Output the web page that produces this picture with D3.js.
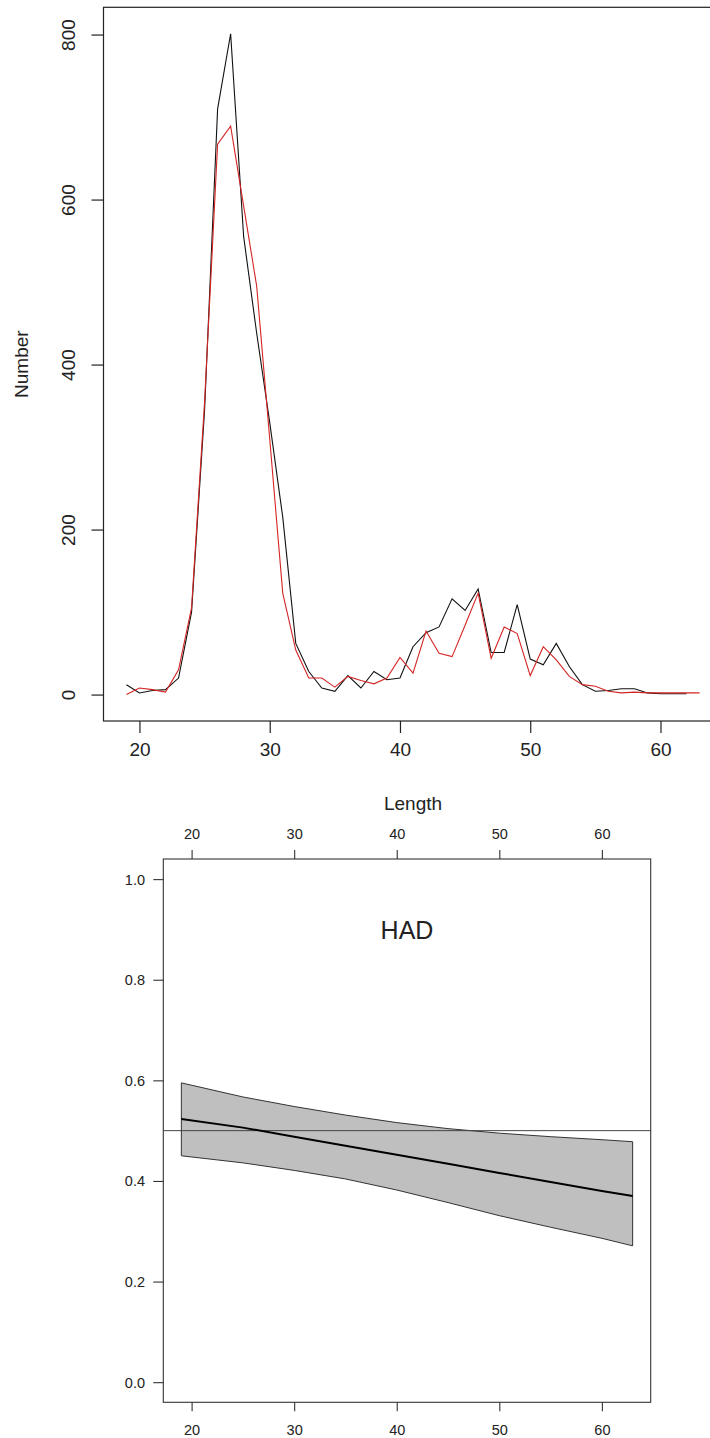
<!DOCTYPE html>
<html>
<head>
<meta charset="utf-8">
<script src="https://cdn.jsdelivr.net/npm/d3@7"></script>
<style>
  html, body { margin: 0; padding: 0; background: #fff; }
  svg { display: block; }
  text { font-family: "Liberation Sans", Arial, sans-serif; fill: #222; }
</style>
</head>
<body>
<svg id="chart" width="710" height="1438"></svg>
<script>
// ---- Top panel data: length-frequency ----
const lengths = d3.range(19, 64); // 19..63
const blackCounts = [12, 2, 5, 6, 20, 100, 345, 710, 801, 555, 438, 330, 215, 62, 28, 8, 4, 23, 8, 28,
  18, 20, 58, 75, 82, 116, 102, 128, 51, 51, 109, 43, 36, 62, 34, 12, 4, 5, 7, 7, 2, 1, 1, 1];
const redCounts = [0, 8, 6, 3, 30, 105, 355, 667, 689, 592, 495, 310, 123, 54, 20, 20, 9, 22, 17, 13,
  20, 45, 26, 77, 50, 46, 84, 123, 44, 82, 74, 23, 58, 42, 22, 12, 10, 4, 2, 3, 2, 2, 2, 2, 2];
const topXTicks = [20, 30, 40, 50, 60];
const topYTicks = [0, 200, 400, 600, 800];

// ---- Bottom panel data: fitted proportion (HAD) ----
const fitLengths = [19, 25, 30, 35, 40, 45, 50, 55, 60, 63];
const fitMean  = [0.523, 0.506, 0.488, 0.470, 0.452, 0.434, 0.416, 0.398, 0.380, 0.370];
const fitUpper = [0.595, 0.567, 0.548, 0.531, 0.516, 0.504, 0.495, 0.488, 0.482, 0.478];
const fitLower = [0.450, 0.436, 0.421, 0.404, 0.382, 0.357, 0.331, 0.308, 0.286, 0.271];
const botXTicks = [20, 30, 40, 50, 60];
const botYTicks = [0.0, 0.2, 0.4, 0.6, 0.8, 1.0];
const refLevel = 0.5;
const panelTitle = "HAD";

const svg = d3.select("#chart");

// ================= TOP PANEL =================
const tL = 103.5, tR = 722.5, tT = 7.3, tB = 721;
const xmin = d3.min(lengths), xmax = d3.max(lengths);
const xpad = (xmax - xmin) * 0.04;
const ymaxTop = d3.max([...blackCounts, ...redCounts]);
const ypad = ymaxTop * 0.04;
const xTop = d3.scaleLinear().domain([xmin - xpad, xmax + xpad]).range([tL, tR]);
const yTop = d3.scaleLinear().domain([-ypad, ymaxTop + ypad]).range([tB, tT]);

const gTop = svg.append("g");
const lineTop = d3.line().x(d => xTop(d[0])).y(d => yTop(d[1]));

gTop.append("path")
  .datum(blackCounts.map((v, i) => [lengths[i], v]))
  .attr("d", lineTop).attr("fill", "none").attr("stroke", "#111").attr("stroke-width", 1.1);
gTop.append("path")
  .datum(redCounts.map((v, i) => [lengths[i], v]))
  .attr("d", lineTop).attr("fill", "none").attr("stroke", "#d42525").attr("stroke-width", 1.1);

// box
gTop.append("rect").attr("x", tL).attr("y", tT).attr("width", tR - tL).attr("height", tB - tT)
  .attr("fill", "none").attr("stroke", "#222").attr("stroke-width", 1.2);

// x axis
const xAxisTop = d3.axisBottom(xTop).tickValues(topXTicks).tickSize(12).tickPadding(10).tickFormat(d3.format("d"));
const gxTop = gTop.append("g").attr("transform", `translate(0,${tB})`).call(xAxisTop);
gxTop.select(".domain").remove();
gxTop.selectAll(".tick line").attr("stroke", "#222").attr("stroke-width", 1.2);
gxTop.selectAll(".tick text").attr("font-size", 19).attr("fill", "#222")
  .attr("font-family", "Liberation Sans, Arial, sans-serif");

// y axis
const yAxisTop = d3.axisLeft(yTop).tickValues(topYTicks).tickSize(12).tickPadding(0).tickFormat(d3.format("d"));
const gyTop = gTop.append("g").attr("transform", `translate(${tL},0)`).call(yAxisTop);
gyTop.select(".domain").remove();
gyTop.selectAll(".tick line").attr("stroke", "#222").attr("stroke-width", 1.2);
gyTop.selectAll(".tick text")
  .attr("font-size", 19).attr("fill", "#222")
  .attr("font-family", "Liberation Sans, Arial, sans-serif")
  .attr("x", null).attr("dy", null)
  .attr("text-anchor", "middle").attr("dominant-baseline", "central")
  .attr("transform", `translate(${68.3 - tL},0) rotate(-90)`);

// axis titles
gTop.append("text").attr("x", (tL + tR) / 2).attr("y", 803).attr("text-anchor", "middle")
  .attr("dominant-baseline", "central").attr("font-size", 19).text("Length");
gTop.append("text").attr("transform", `translate(21.7,${(tT + tB) / 2}) rotate(-90)`)
  .attr("text-anchor", "middle").attr("dominant-baseline", "central").attr("font-size", 19).text("Number");

// ================= BOTTOM PANEL =================
const bL = 163.3, bR = 650.7, bT = 859, bB = 1402.3;
const xBot = d3.scaleLinear().domain([xmin - xpad, xmax + xpad]).range([bL, bR]);
const yBot = d3.scaleLinear().domain([-0.04, 1.04]).range([bB, bT]);
const gBot = svg.append("g");

// band
const bandData = fitLengths.map((l, i) => ({ l, lo: fitLower[i], hi: fitUpper[i], m: fitMean[i] }));
const bandPts = [
  ...bandData.map(d => [xBot(d.l), yBot(d.hi)]),
  ...bandData.slice().reverse().map(d => [xBot(d.l), yBot(d.lo)])
];
gBot.append("path").attr("d", "M" + bandPts.map(p => p.join(",")).join("L") + "Z")
  .attr("fill", "#bfbfbf").attr("stroke", "#333").attr("stroke-width", 1);

// reference line
gBot.append("line").attr("x1", bL).attr("x2", bR).attr("y1", yBot(refLevel)).attr("y2", yBot(refLevel))
  .attr("stroke", "#444").attr("stroke-width", 1);

// mean line
gBot.append("path")
  .datum(bandData)
  .attr("d", d3.line().x(d => xBot(d.l)).y(d => yBot(d.m)))
  .attr("fill", "none").attr("stroke", "#000").attr("stroke-width", 2);

// box
gBot.append("rect").attr("x", bL).attr("y", bT).attr("width", bR - bL).attr("height", bB - bT)
  .attr("fill", "none").attr("stroke", "#333").attr("stroke-width", 1.1);

function styleAxis(g, fs) {
  g.select(".domain").remove();
  g.selectAll(".tick line").attr("stroke", "#333").attr("stroke-width", 1.1);
  g.selectAll(".tick text").attr("font-size", fs).attr("fill", "#333")
    .attr("font-family", "Liberation Sans, Arial, sans-serif");
}
const fsB = 14.5;
const gxb = gBot.append("g").attr("transform", `translate(0,${bB})`)
  .call(d3.axisBottom(xBot).tickValues(botXTicks).tickSize(9).tickPadding(0).tickFormat(d3.format("d")));
styleAxis(gxb, fsB);
gxb.selectAll(".tick text").attr("y", 1430 - bB).attr("dy", null).attr("dominant-baseline", "central");

const gxt = gBot.append("g").attr("transform", `translate(0,${bT})`)
  .call(d3.axisTop(xBot).tickValues(botXTicks).tickSize(9).tickPadding(0).tickFormat(d3.format("d")));
styleAxis(gxt, fsB);
gxt.selectAll(".tick text").attr("y", 834 - bT).attr("dy", null).attr("dominant-baseline", "central");

const gyb = gBot.append("g").attr("transform", `translate(${bL},0)`)
  .call(d3.axisLeft(yBot).tickValues(botYTicks).tickSize(10).tickPadding(0).tickFormat(d3.format(".1f")));
styleAxis(gyb, fsB);
gyb.selectAll(".tick text").attr("x", 145 - bL).attr("dy", null)
  .attr("text-anchor", "end").attr("dominant-baseline", "central");

// panel title
gBot.append("text").attr("x", (bL + bR) / 2).attr("y", 938.5).attr("text-anchor", "middle")
  .attr("font-size", 25).attr("fill", "#111").text(panelTitle);
</script>
</body>
</html>
